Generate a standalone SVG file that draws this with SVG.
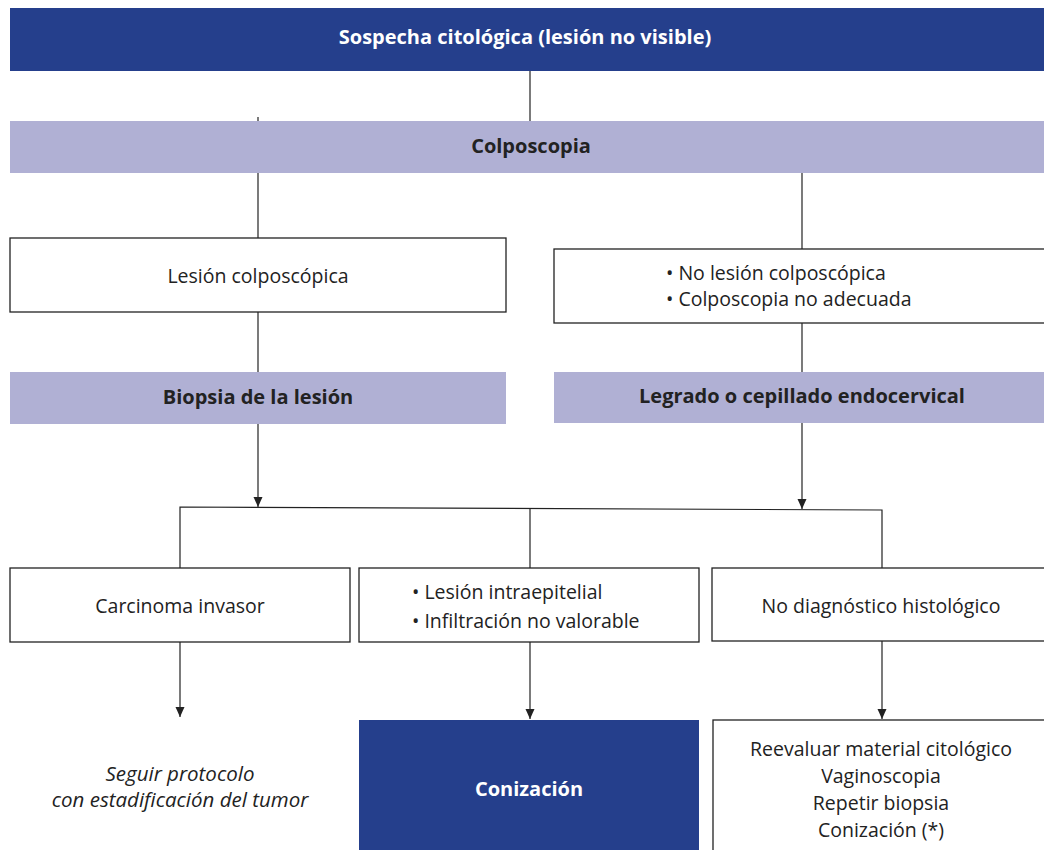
<svg xmlns="http://www.w3.org/2000/svg" width="1044" height="850" viewBox="0 0 1044 850">
<defs>
<style>
text{font-family:"Open Sans","Noto Sans","Liberation Sans",sans-serif;font-size:19.5px;fill:#222}
.dark{fill:#253F8C}
.lav{fill:#B0B0D4}
.box{fill:#fff;stroke:#222;stroke-width:1.3}
.b{font-weight:bold;font-size:20px}
.w{fill:#fff}
.c{text-anchor:middle}
.i{font-style:italic;font-size:20.5px}
.ln{stroke:#222;stroke-width:1.2;fill:none}
</style>
<marker id="ah" viewBox="0 0 10 18" refX="10" refY="9" markerWidth="10" markerHeight="18" markerUnits="userSpaceOnUse" orient="auto">
<path d="M0,4.5 L10,9 L0,13.5 Z" fill="#222"/>
</marker>
</defs>
<g id="connectors">
<line class="ln" x1="530" y1="71" x2="530" y2="121"/>
<line class="ln" x1="258" y1="117" x2="258" y2="121"/>
<line class="ln" x1="258" y1="173" x2="258" y2="238"/>
<line class="ln" x1="802" y1="173" x2="802" y2="249"/>
<line class="ln" x1="258" y1="312" x2="258" y2="372"/>
<line class="ln" x1="802" y1="323" x2="802" y2="372"/>
<line class="ln" x1="258" y1="424" x2="258" y2="507" marker-end="url(#ah)"/>
<line class="ln" x1="802" y1="423" x2="802" y2="509" marker-end="url(#ah)"/>
<polyline class="ln" points="180,568 180,507 882,510 882,568"/>
<line class="ln" x1="530" y1="508" x2="530" y2="568"/>
<line class="ln" x1="180" y1="642" x2="180" y2="717" marker-end="url(#ah)"/>
<line class="ln" x1="530" y1="642" x2="530" y2="719" marker-end="url(#ah)"/>
<line class="ln" x1="882" y1="641" x2="882" y2="719" marker-end="url(#ah)"/>
</g>
<g id="n-sospecha">
<rect class="dark" x="10" y="8" width="1034" height="63"/>
<text class="b w c" x="525" y="44">Sospecha citológica (lesión no visible)</text>
</g>
<g id="n-colposcopia">
<rect class="lav" x="10" y="121" width="1034" height="52"/>
<text class="b c" x="531" y="153">Colposcopia</text>
</g>
<g id="n-lesion">
<rect class="box" x="10" y="238" width="496" height="74"/>
<text class="c" x="258" y="283">Lesión colposcópica</text>
</g>
<g id="n-nolesion">
<rect class="box" x="554" y="249" width="495" height="74"/>
<text x="666" y="280">• No lesión colposcópica</text>
<text x="666" y="306">• Colposcopia no adecuada</text>
</g>
<g id="n-biopsia">
<rect class="lav" x="10" y="372" width="496" height="52"/>
<text class="b c" x="258" y="404">Biopsia de la lesión</text>
</g>
<g id="n-legrado">
<rect class="lav" x="554" y="372" width="490" height="51"/>
<text class="b c" x="802" y="403">Legrado o cepillado endocervical</text>
</g>
<g id="n-carcinoma">
<rect class="box" x="10" y="568" width="340" height="74"/>
<text class="c" x="180" y="613">Carcinoma invasor</text>
</g>
<g id="n-intraepitelial">
<rect class="box" x="359" y="568" width="340" height="74"/>
<text x="412" y="599">• Lesión intraepitelial</text>
<text x="412" y="628">• Infiltración no valorable</text>
</g>
<g id="n-nodiag">
<rect class="box" x="712" y="568" width="337" height="73"/>
<text class="c" x="881" y="613">No diagnóstico histológico</text>
</g>
<g id="n-seguir">
<text class="c i" x="180" y="781">Seguir protocolo</text>
<text class="c i" x="180" y="807">con estadificación del tumor</text>
</g>
<g id="n-conizacion">
<rect class="dark" x="359" y="720" width="340" height="135"/>
<text class="b w c" x="529" y="796">Conización</text>
</g>
<g id="n-reevaluar">
<rect class="box" x="713" y="720" width="336" height="135"/>
<text class="c" x="881" y="756">Reevaluar material citológico</text>
<text class="c" x="881" y="783">Vaginoscopia</text>
<text class="c" x="881" y="810">Repetir biopsia</text>
<text class="c" x="881" y="837">Conización (*)</text>
</g>
</svg>
